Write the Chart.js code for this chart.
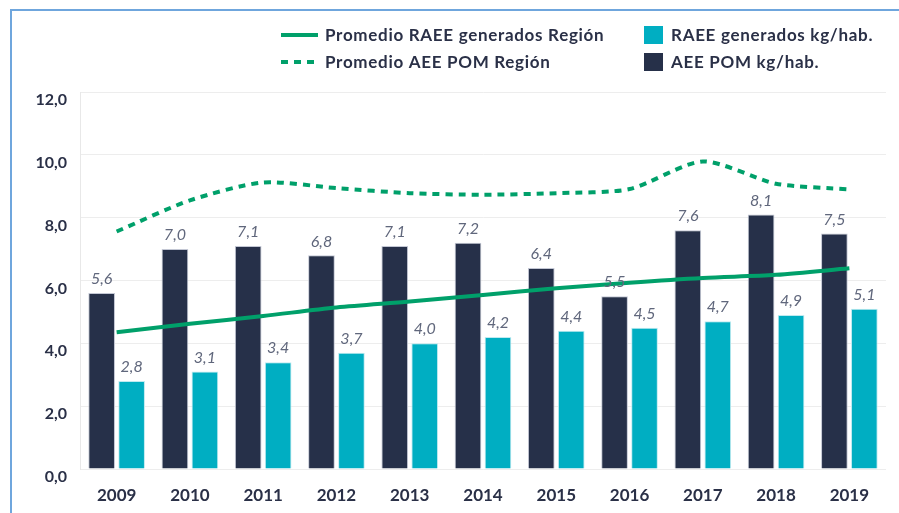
<!DOCTYPE html>
<html><head><meta charset="utf-8">
<script src="https://cdn.jsdelivr.net/npm/chart.js@4/dist/chart.umd.min.js"></script>
<style>html,body{margin:0;padding:0;background:#fff;}#wrap{position:relative;width:899px;height:513px;}</style>
</head><body><div id="wrap"><canvas id="c" width="899" height="513"></canvas></div>
<script>
const years = ['2009','2010','2011','2012','2013','2014','2015','2016','2017','2018','2019'];
const aeePom = [5.6,7.0,7.1,6.8,7.1,7.2,6.4,5.5,7.6,8.1,7.5];
const raeeGen = [2.8,3.1,3.4,3.7,4.0,4.2,4.4,4.5,4.7,4.9,5.1];
const promRaee = [4.35,4.62,4.87,5.14,5.33,5.54,5.75,5.93,6.08,6.18,6.39];
const promAee = [7.56,8.55,9.12,8.94,8.78,8.73,8.78,8.91,9.79,9.08,8.90];
const yTicks = [0,2,4,6,8,10,12];
const seriesNames = ['Promedio RAEE generados Región','Promedio AEE POM Región','RAEE generados kg/hab.','AEE POM kg/hab.'];

const NAVY = '#263049', TEAL = '#00aec2', GREEN = '#00a06a', TXT = '#2a3047', LBL = '#60677c';
const FONT = 'Lato';
const fmt = v => Number(v).toFixed(1).replace('.', ',');

const framePlugin = {
  id: 'frame',
  beforeDraw(chart) {
    const c = chart.ctx;
    c.save();
    c.fillStyle = '#fff';
    c.fillRect(0, 0, chart.width, chart.height);
    c.strokeStyle = '#6fa6dd';
    c.lineWidth = 2;
    c.beginPath();
    c.moveTo(11, chart.height);
    c.lineTo(11, 10);
    c.lineTo(chart.width, 10);
    c.stroke();
    c.restore();
  }
};

const labelPlugin = {
  id: 'barLabels',
  afterDatasetsDraw(chart) {
    const c = chart.ctx;
    c.save();
    c.font = 'italic 16px ' + FONT;
    c.fillStyle = LBL;
    c.textAlign = 'center';
    c.textBaseline = 'bottom';
    chart.data.datasets.forEach((ds, i) => {
      if (ds.type !== 'bar') return;
      const meta = chart.getDatasetMeta(i);
      meta.data.forEach((el, j) => {
        c.fillText(fmt(ds.data[j]), el.x, el.y - 6);
      });
    });
    c.restore();
  }
};

const legendPlugin = {
  id: 'customLegend',
  afterDraw(chart) {
    const c = chart.ctx;
    const ds = chart.data.datasets;
    c.save();
    c.font = 'bold 17px ' + FONT;
    if ('letterSpacing' in c) c.letterSpacing = '0.7px';
    c.fillStyle = TXT;
    c.textBaseline = 'middle';
    c.textAlign = 'left';
    const rows = [35, 62];
    [0, 1].forEach((k, r) => {
      const d = ds.find(x => x.label === seriesNames[k]);
      c.save();
      c.strokeStyle = d.borderColor;
      c.lineWidth = 4;
      c.setLineDash(d.borderDash || []);
      c.beginPath();
      c.moveTo(281, rows[r]);
      c.lineTo(318, rows[r]);
      c.stroke();
      c.restore();
      c.fillText(seriesNames[k], 325, rows[r] + 1);
    });
    [2, 3].forEach((k, r) => {
      const d = ds.find(x => x.label === seriesNames[k]);
      c.fillStyle = d.backgroundColor;
      c.fillRect(644, rows[r] - 9, 19, 18);
      c.fillStyle = TXT;
      c.fillText(seriesNames[k], 671, rows[r] + 1);
    });
    c.restore();
  }
};

new Chart(document.getElementById('c'), {
  data: {
    labels: years,
    datasets: [
      { type: 'line', label: seriesNames[0], data: promRaee, borderColor: GREEN, borderWidth: 4, pointRadius: 0, tension: 0.3, order: 0 },
      { type: 'line', label: seriesNames[1], data: promAee, borderColor: GREEN, borderWidth: 4, borderDash: [7, 6], pointRadius: 0, tension: 0.25, order: 0 },
      { type: 'bar', label: seriesNames[3], data: aeePom, backgroundColor: NAVY, borderColor: '#c3c7d4', borderWidth: 1, categoryPercentage: 0.818, barPercentage: 0.89, order: 1 },
      { type: 'bar', label: seriesNames[2], data: raeeGen, backgroundColor: TEAL, borderColor: '#bfeaf0', borderWidth: 1, categoryPercentage: 0.818, barPercentage: 0.89, order: 1 }
    ]
  },
  options: {
    responsive: false,
    animation: false,
    devicePixelRatio: 1,
    layout: { padding: { top: 92, right: 13, left: 0, bottom: 0 } },
    plugins: { legend: { display: false }, tooltip: { enabled: false } },
    scales: {
      x: {
        grid: { display: false, drawTicks: false },
        border: { display: false },
        ticks: { color: TXT, font: { family: FONT, size: 17, weight: 'bold' }, padding: 16 },
        afterFit(s) { s.height = 44; }
      },
      y: {
        min: 0, max: 12,
        afterBuildTicks(s) { s.ticks = yTicks.map(v => ({ value: v })); },
        grid: { color: '#ededed', lineWidth: 1, drawTicks: false },
        border: { color: '#e8e8e8' },
        ticks: { color: TXT, font: { family: FONT, size: 16, weight: 'bold' }, padding: 13, labelOffset: 8, callback: v => fmt(v) },
        afterFit(s) { s.width = 80; }
      }
    }
  },
  plugins: [framePlugin, labelPlugin, legendPlugin]
});
</script></body></html>
